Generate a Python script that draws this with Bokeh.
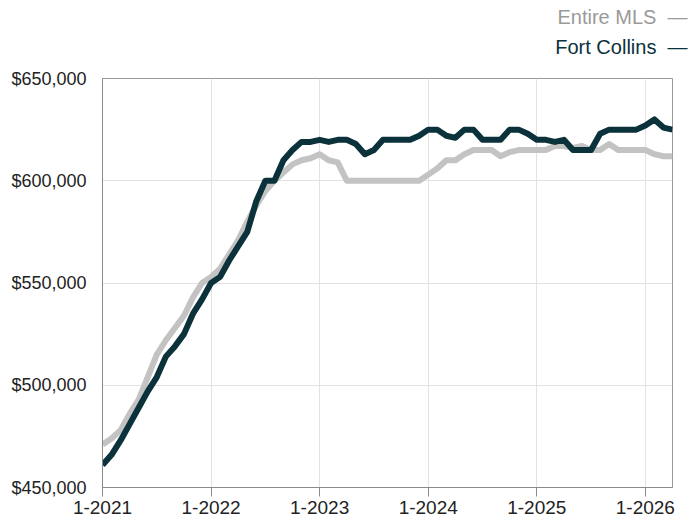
from bokeh.plotting import figure
from bokeh.models import Range1d, FixedTicker, NumeralTickFormatter, Title
from bokeh.embed import file_html
from bokeh.resources import INLINE

# month index since 1-2021
months = list(range(64))
tick_months = [0, 12, 24, 36, 48, 60]
tick_labels = ["1-2021", "1-2022", "1-2023", "1-2024", "1-2025", "1-2026"]

fort_collins = [
    461000, 466000, 473000, 481000, 489000, 497000, 504000, 514000, 519000, 525000, 535000, 542000,
    550000, 553000, 561000, 568000, 575000, 590000, 600000, 600000, 610000, 615000, 619000, 619000,
    620000, 619000, 620000, 620000, 618000, 613000, 615000, 620000, 620000, 620000, 620000, 622000,
    625000, 625000, 622000, 621000, 625000, 625000, 620000, 620000, 620000, 625000, 625000, 623000,
    620000, 620000, 619000, 620000, 615000, 615000, 615000, 623000, 625000, 625000, 625000, 625000,
    627000, 630000, 626000, 625000,
]
entire_mls = [
    471000, 474000, 478000, 486000, 493000, 504000, 515000, 522000, 528000, 534000, 543000, 550000,
    553000, 557000, 564000, 571000, 580000, 588000, 595000, 600000, 604000, 608000, 610000, 611000,
    613000, 610000, 609000, 600000, 600000, 600000, 600000, 600000, 600000, 600000, 600000, 600000,
    603000, 606000, 610000, 610000, 613000, 615000, 615000, 615000, 612000, 614000, 615000, 615000,
    615000, 615000, 617000, 617000, 616000, 617000, 615000, 615000, 618000, 615000, 615000, 615000,
    615000, 613000, 612000, 612000,
]

FONT = "Liberation Sans"
DARK = "#0b313b"
GRAY = "#c3c3c3"

p = figure(width=689, height=518, output_backend="svg", toolbar_location=None,
           x_range=Range1d(0, 63), y_range=Range1d(450000, 650000),
           min_border_left=102, min_border_right=17, min_border_top=78, min_border_bottom=31)

p.line(months, entire_mls, line_color=GRAY, line_width=6, line_join="round")
p.line(months, fort_collins, line_color=DARK, line_width=6, line_join="round")

p.xaxis.ticker = FixedTicker(ticks=tick_months)
p.xaxis.major_label_overrides = {m: t for m, t in zip(tick_months, tick_labels)}
p.yaxis.ticker = FixedTicker(ticks=[450000, 500000, 550000, 600000, 650000])
p.yaxis.formatter = NumeralTickFormatter(format="$0,0")

for ax in (p.xaxis, p.yaxis):
    ax.axis_line_color = "#8a8a8a"
    ax.major_tick_line_color = "#8a8a8a"
    ax.minor_tick_line_color = None
    ax.major_tick_in = 0
    ax.major_label_text_font = FONT
    ax.major_label_text_color = "#222222"
p.xaxis.major_label_text_font_size = "19px"
p.yaxis.major_label_text_font_size = "18px"
p.xaxis.major_tick_out = 9
p.xaxis.major_label_standoff = 4
p.yaxis.major_tick_out = 0
p.yaxis.major_label_standoff = 16

p.xgrid.ticker = FixedTicker(ticks=tick_months)
p.grid.grid_line_color = "#e2e2e2"
p.grid.grid_line_width = 1
p.outline_line_color = "#9a9a9a"
p.outline_line_width = 1
p.background_fill_color = "white"
p.border_fill_color = "white"

# spacer between plot and legend rows (titles stack outward from the plot)
p.add_layout(Title(text=" ", text_font_size="10px", standoff=4), "above")
legend_rows = [("Fort Collins\u00a0\u00a0\u2014", DARK, 4), ("Entire MLS\u00a0\u00a0\u2014", "#9a9a9a", 8)]
for txt, col, so in legend_rows:
    p.add_layout(Title(text=txt, align="right", vertical_align="top", text_color=col,
                       text_font=FONT, text_font_size="20px", text_font_style="normal",
                       offset=-15, standoff=so), "above")

open("out.html", "w").write(file_html(p, INLINE))
